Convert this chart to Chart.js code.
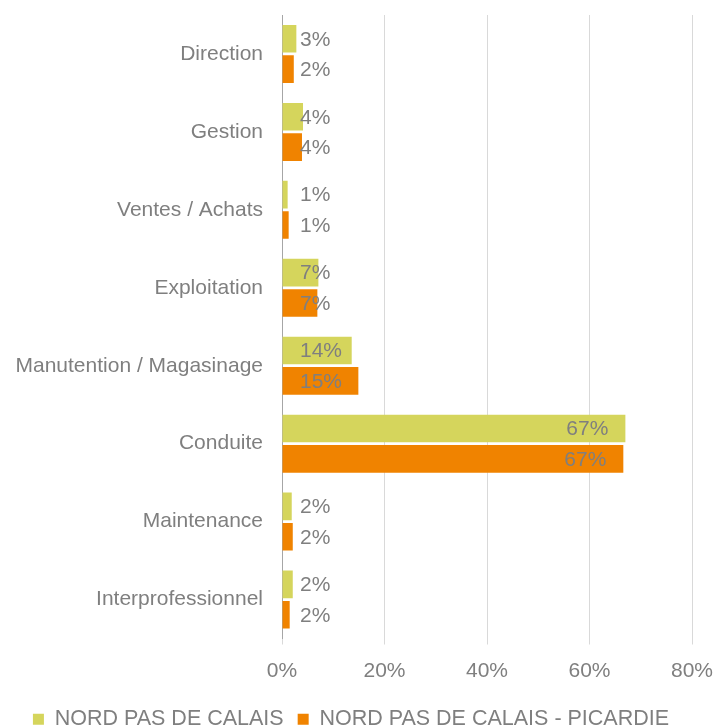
<!DOCTYPE html>
<html lang="fr">
<head>
  <meta charset="UTF-8">
  <title>Répartition par famille de métiers</title>
  <script src="https://cdn.jsdelivr.net/npm/chart.js"></script>
  <style>
    html, body {
      margin: 0;
      padding: 0;
      background: #fff;
    }
    .wrap {
      width: 715px;
      height: 726px;
    }
  </style>
</head>
<body>
  <div class="wrap">
    <canvas id="metiersChart" width="715" height="726"></canvas>
  </div>

  <script>
    const categories = [
      'Direction',
      'Gestion',
      'Ventes / Achats',
      'Exploitation',
      'Manutention / Magasinage',
      'Conduite',
      'Maintenance',
      'Interprofessionnel'
    ];
    const seriesNames = ['NORD PAS DE CALAIS', 'NORD PAS DE CALAIS - PICARDIE'];
    const npdcValues = [2.8, 4.1, 1.1, 7.1, 13.6, 67.0, 1.9, 2.1];
    const npdcPicValues = [2.3, 3.9, 1.3, 6.9, 14.9, 66.6, 2.1, 1.5];
    const xTicks = [0, 20, 40, 60, 80];

    const textColor = '#7f7f7f';
    const fontFamily = '"Liberation Sans", Arial, sans-serif';
    const padLeft = 10;

    // value labels: near the bar end, but never closer to the axis than 18px
    const valueLabels = {
      id: 'valueLabels',
      afterDatasetsDraw(chart) {
        const ctx = chart.ctx;
        const x0 = chart.scales.x.getPixelForValue(0);
        ctx.save();
        ctx.font = '21px ' + fontFamily;
        ctx.fillStyle = textColor;
        ctx.textBaseline = 'middle';
        ctx.textAlign = 'left';
        chart.data.datasets.forEach((ds, i) => {
          chart.getDatasetMeta(i).data.forEach((bar, j) => {
            const txt = Math.round(ds.data[j]) + '%';
            const w = ctx.measureText(txt).width;
            const left = Math.max(x0 + 18, bar.x - 17 - w);
            ctx.fillText(txt, left, bar.y + 1);
          });
        });
        ctx.restore();
      }
    };

    new Chart(document.getElementById('metiersChart'), {
      type: 'bar',
      data: {
        labels: categories,
        datasets: [
          {
            label: seriesNames[0],
            data: npdcValues,
            backgroundColor: '#d5d55c',
            categoryPercentage: 0.78,
            barPercentage: 0.91
          },
          {
            label: seriesNames[1],
            data: npdcPicValues,
            backgroundColor: '#f08300',
            categoryPercentage: 0.78,
            barPercentage: 0.91
          }
        ]
      },
      options: {
        indexAxis: 'y',
        responsive: false,
        animation: false,
        layout: { padding: { top: 15, left: padLeft, right: 23, bottom: -14 } },
        plugins: {
          tooltip: { enabled: false },
          legend: {
            position: 'bottom',
            labels: {
              boxWidth: 11,
              boxHeight: 11,
              padding: 14,
              color: textColor,
              font: { family: fontFamily, size: 21.5 }
            }
          }
        },
        scales: {
          x: {
            min: 0,
            max: 80,
            afterBuildTicks(scale) {
              scale.ticks = xTicks.map(v => ({ value: v }));
            },
            afterFit(scale) {
              scale.height = 56;
              scale.paddingLeft = 0;
              scale.paddingRight = 0;
            },
            grid: {
              color: '#d9d9d9',
              lineWidth: 1,
              tickLength: 6,
              drawOnChartArea: true
            },
            border: { display: false },
            ticks: {
              padding: 14,
              color: textColor,
              font: { family: fontFamily, size: 21 },
              callback: v => v + '%'
            }
          },
          y: {
            afterFit(scale) {
              scale.width = 282 - padLeft;
              scale.paddingTop = 0;
              scale.paddingBottom = 0;
            },
            grid: { display: false, drawTicks: false },
            border: { display: true, color: '#a6a6a6', width: 1 },
            ticks: {
              padding: 19,
              color: textColor,
              font: { family: fontFamily, size: 21 }
            }
          }
        }
      },
      plugins: [valueLabels]
    });
  </script>
</body>
</html>
